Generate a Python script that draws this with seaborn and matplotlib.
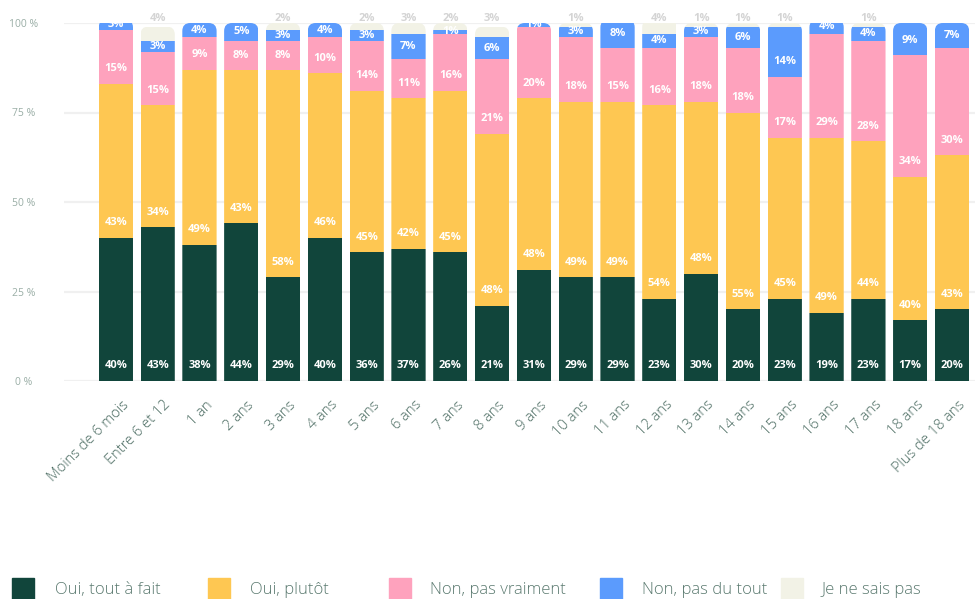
import numpy as np
import matplotlib
matplotlib.use("Agg")
import matplotlib.pyplot as plt
from matplotlib.patches import FancyBboxPatch, Rectangle
from matplotlib.transforms import ScaledTranslation
import seaborn as sns

categories = ["Moins de 6 mois", "Entre 6 et 12", "1 an", "2 ans", "3 ans", "4 ans",
              "5 ans", "6 ans", "7 ans", "8 ans", "9 ans", "10 ans", "11 ans", "12 ans",
              "13 ans", "14 ans", "15 ans", "16 ans", "17 ans", "18 ans", "Plus de 18 ans"]
tout_a_fait = [40, 43, 38, 44, 29, 40, 36, 37, 36, 21, 31, 29, 29, 23, 30, 20, 23, 19, 23, 17, 20]
plutot = [43, 34, 49, 43, 58, 46, 45, 42, 45, 48, 48, 49, 49, 54, 48, 55, 45, 49, 44, 40, 43]
pas_vraiment = [15, 15, 9, 8, 8, 10, 14, 11, 16, 21, 20, 18, 15, 16, 18, 18, 17, 29, 28, 34, 30]
pas_du_tout = [3, 3, 4, 5, 3, 4, 3, 7, 1, 6, 1, 3, 8, 4, 3, 6, 14, 4, 4, 9, 7]
ne_sais_pas = [0, 4, 0, 0, 2, 0, 2, 3, 2, 3, 0, 1, 0, 4, 1, 1, 1, 0, 1, 0, 0]
series_names = ["Oui, tout à fait", "Oui, plutôt", "Non, pas vraiment", "Non, pas du tout", "Je ne sais pas"]

# printed labels; the source shows 26% on the 7 ans bar although the bar is drawn ~36
dark_text = [f"{v}%" for v in tout_a_fait]
dark_text[8] = "26%"

colors = ["#11453b", "#fec752", "#fea2bd", "#5b9bfd", "#f2f2e6"]

sns.set_theme(style="white")
plt.rcParams['font.family'] = ['Open Sans', 'DejaVu Sans']

fig = plt.figure(figsize=(9.8, 5.99), dpi=100)
ax = fig.add_axes([64 / 980, 1 - 381 / 599, 911 / 980, 358 / 599])

series = [tout_a_fait, plutot, pas_vraiment, pas_du_tout, ne_sais_pas]
bottom = np.zeros(len(categories))
bar_w = 0.82
for vals, col in zip(series, colors):
    sns.barplot(x=categories, y=vals, bottom=bottom, color=col, saturation=1,
                width=bar_w, errorbar=None, ax=ax, linewidth=0)
    bottom = bottom + np.array(vals)

ax.set_xlim(-1.24, 20.55)
ax.set_ylim(0, 100)

# rounded tops: clip every segment of a column to a rounded box
px_x = 1 / 41.8
px_y = 100 / 358
r = 8 * px_x
n = len(categories)
for k, p in enumerate(ax.patches):
    i = k % n
    clip = FancyBboxPatch((i - bar_w / 2, -10), bar_w, bottom[i] + 10,
                          boxstyle=f"round,pad=0,rounding_size={r}",
                          mutation_aspect=px_y / px_x, transform=ax.transData)
    p.set_clip_path(clip)

# segment labels
off = 4.2
for s, (vals, col) in enumerate(zip(series[:4], colors[:4])):
    base = np.zeros(n) if s == 0 else np.sum(series[:s], axis=0)
    for i, v in enumerate(vals):
        if v <= 0:
            continue
        txt = dark_text[i] if s == 0 else f"{v}%"
        ax.text(i, base[i] + min(off, v / 2), txt, ha="center", va="center",
                color="white", fontsize=8, fontweight="bold")

for i, v in enumerate(ne_sais_pas):
    if v > 0:
        ax.text(i, 101.2, f"{v}%", ha="center", va="center", color="#d4d4d4",
                fontsize=8, fontweight="bold", clip_on=False)

ax.set_yticks([0, 25, 50, 75, 100])
ax.set_yticklabels(["0 %", "25 %", "50 %", "75 %", "100 %"])
ax.yaxis.grid(True, color="#f0f0f0", linewidth=1.6)
ax.set_axisbelow(True)
for sp in ax.spines.values():
    sp.set_visible(False)
ax.tick_params(axis="y", length=0, pad=28.8, labelsize=7.5, labelcolor="#9aaea6")
for t in ax.get_yticklabels():
    t.set_ha("center")
ax.tick_params(axis="x", length=0, pad=12, labelsize=10.5, labelcolor="#4a6b61")
ax.set_xticks(range(n))
ax.set_xticklabels(categories, rotation=45, ha="right", rotation_mode="anchor")
shift = ScaledTranslation(4 / 72, 0, fig.dpi_scale_trans)
for t in ax.get_xticklabels():
    t.set_fontweight("light")
    t.set_transform(t.get_transform() + shift)
ax.set_xlabel("")
ax.set_ylabel("")

# legend along the bottom
sq_x = [12, 208, 389, 600, 781]
tx_x = [55, 250, 430, 642, 822]
for name, col, sx, tx in zip(series_names, colors, sq_x, tx_x):
    fig.patches.append(Rectangle((sx / 980, 0), 22 / 980, 21 / 599, color=col,
                                 transform=fig.transFigure, figure=fig))
    fig.text(tx / 980, 1 - 590 / 599, name, ha="left", va="center",
             fontsize=12, color="#5b7a70", fontweight="light")

fig.savefig("out.png", dpi=100)
